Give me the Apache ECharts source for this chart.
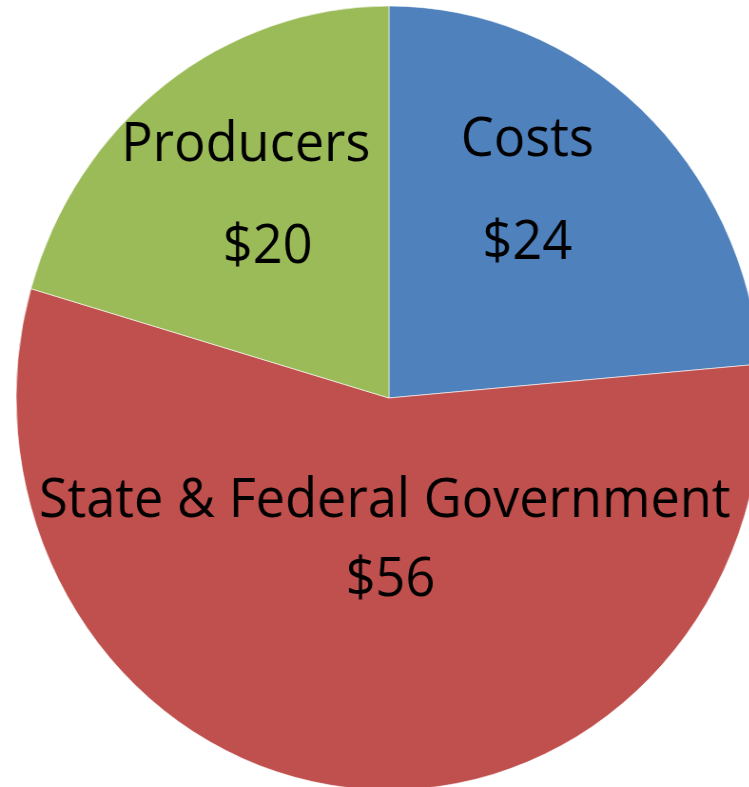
<!DOCTYPE html>
<html>
<head>
<meta charset="utf-8">
<script src="https://cdn.jsdelivr.net/npm/echarts@6/dist/echarts.min.js"></script>
<style>
html, body { margin: 0; padding: 0; background: #fff; overflow: hidden; }
/* the reference pie is a bit squeezed sideways, so squeeze the whole chart */
#chart { width: 788px; height: 787px; transform: scaleX(0.951); transform-origin: 0 0; }
</style>
</head>
<body>
<div id="chart"></div>
<script>
const categories = ['Costs', 'State & Federal Government', 'Producers'];
// slice sizes; labels show them rounded to whole dollars
const amounts = [23.5, 55.6, 20.4];

const colors = ['#4F81BD', '#C0504D', '#9BBB59'];
// gap between the name line and the value line of each label
const lineGaps = [103, 79, 102];
// nudge from the default inside spot
const labelNudge = [[11, -59], [15, -55], [-31, -43]];
const valueIndent = [0, 12, 46];
const fontName = 'Open Sans';

let myChart = echarts.init(document.getElementById('chart'));

let pieData = categories.map(function (name, i) {
  return {
    name: name,
    value: amounts[i],
    itemStyle: { color: colors[i] },
    label: {
      rich: {
        n: { fontSize: 55, lineHeight: lineGaps[i], color: '#000', fontFamily: fontName },
        v: { fontSize: 55, lineHeight: lineGaps[i], color: '#000', fontFamily: fontName, padding: [0, 0, 0, valueIndent[i]] }
      }
    }
  };
});

let option = {
  animation: false,
  series: [
    {
      type: 'pie',
      center: [409, 398],
      radius: [0, 392],
      startAngle: 90,
      clockwise: true,
      silent: true,
      itemStyle: { borderColor: '#fff', borderWidth: 0.6 },
      label: {
        show: true,
        position: 'inside',
        align: 'center',
        formatter: function (p) {
          return '{n|' + p.name + '}\n{v|$' + Math.round(p.value) + '}';
        }
      },
      labelLine: { show: false },
      labelLayout: function (params) {
        let d = labelNudge[params.dataIndex];
        return { dx: d[0], dy: d[1] };
      },
      data: pieData
    }
  ]
};

myChart.setOption(option);
</script>
</body>
</html>
